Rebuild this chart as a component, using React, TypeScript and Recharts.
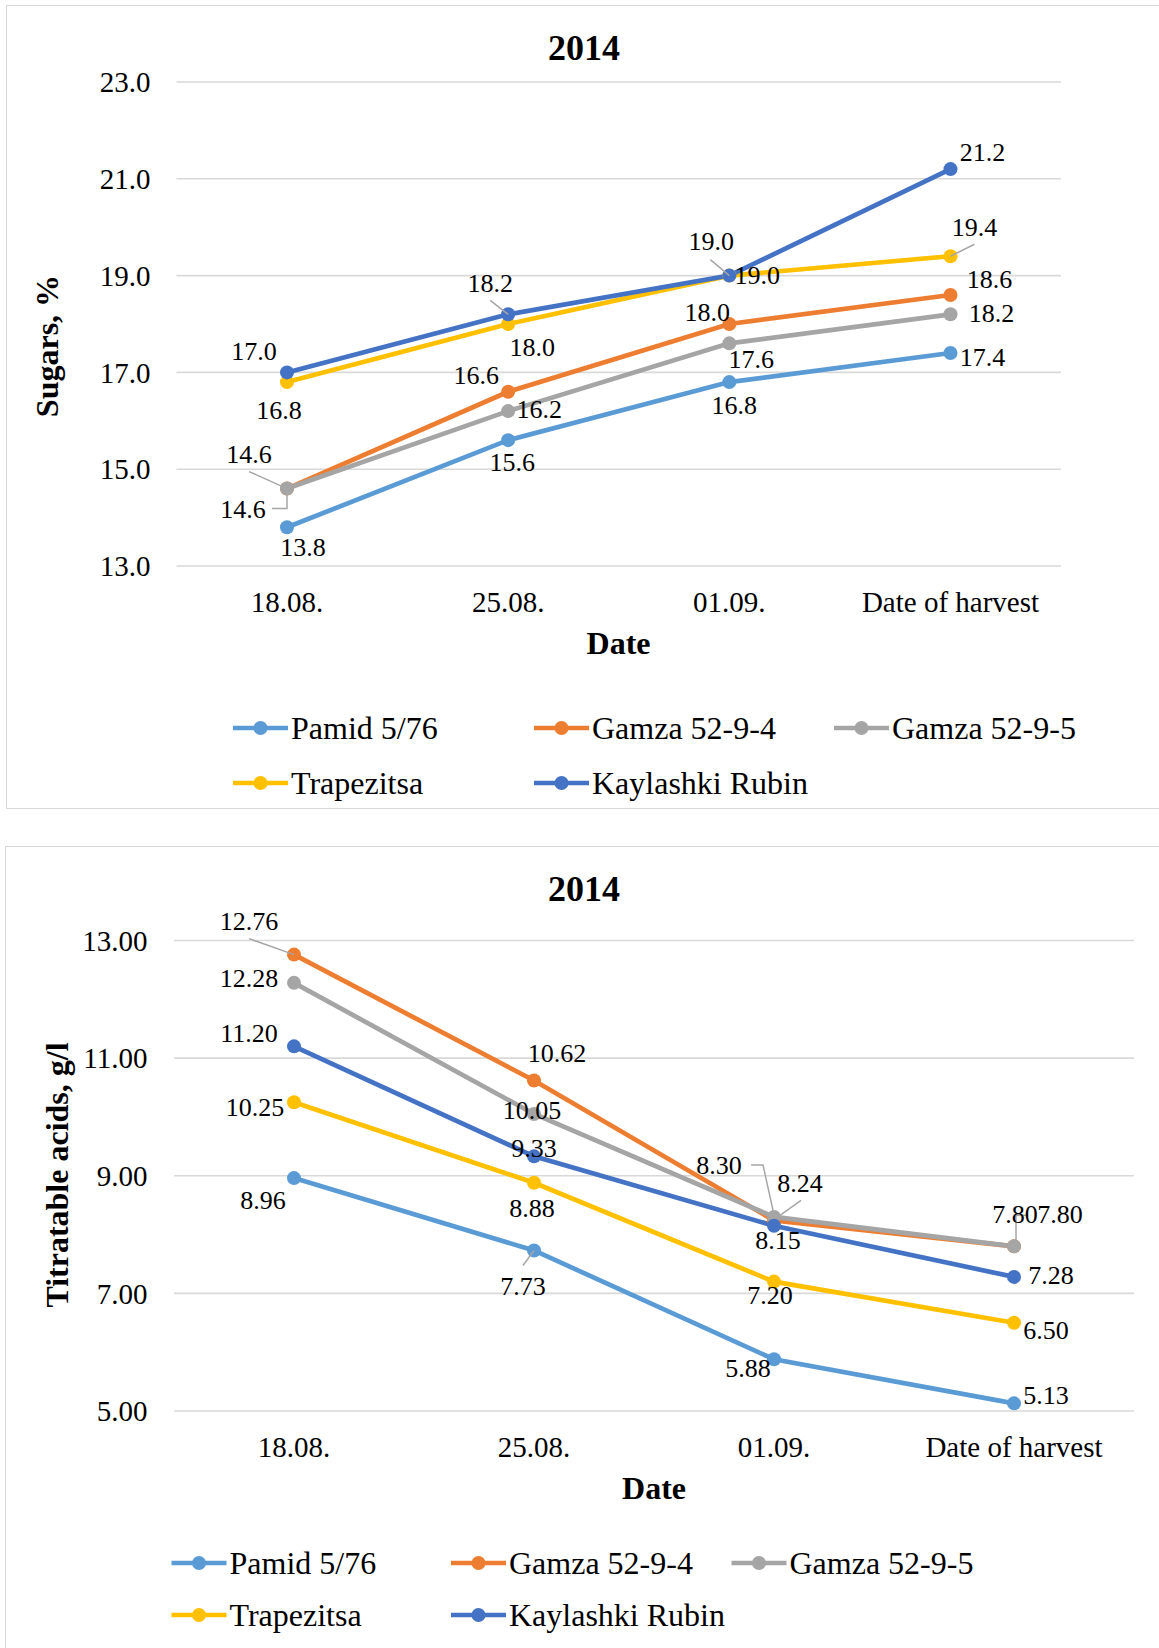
import React from 'react';
import { LineChart, Line, XAxis, YAxis, CartesianGrid, LabelList } from 'recharts';

// ---------- data ----------
const dates = ['18.08.', '25.08.', '01.09.', 'Date of harvest'];
const seriesNames = ['Pamid 5/76', 'Gamza 52-9-4', 'Gamza 52-9-5', 'Trapezitsa', 'Kaylashki Rubin'];
const seriesKeys = ['pamid', 'gamza4', 'gamza5', 'trapezitsa', 'kaylashki'];
const seriesColors = ['#5B9BD5', '#ED7D31', '#A5A5A5', '#FFC000', '#4472C4'];

const sugarsPamid = [13.8, 15.6, 16.8, 17.4];
const sugarsGamza4 = [14.6, 16.6, 18.0, 18.6];
const sugarsGamza5 = [14.6, 16.2, 17.6, 18.2];
const sugarsTrapezitsa = [16.8, 18.0, 19.0, 19.4];
const sugarsKaylashki = [17.0, 18.2, 19.0, 21.2];
const sugarsTicks = [13, 15, 17, 19, 21, 23];

const acidsPamid = [8.96, 7.73, 5.88, 5.13];
const acidsGamza4 = [12.76, 10.62, 8.24, 7.8];
const acidsGamza5 = [12.28, 10.05, 8.3, 7.8];
const acidsTrapezitsa = [10.25, 8.88, 7.2, 6.5];
const acidsKaylashki = [11.2, 9.33, 8.15, 7.28];
const acidsTicks = [5, 7, 9, 11, 13];

const chartTitle = '2014';
const xTitle = 'Date';
const sugarsYTitle = 'Sugars, %';
const acidsYTitle = 'Titratable acids, g/l';

const buildRows = (series: number[][]) =>
  dates.map((d, i) => {
    const row: any = { date: d };
    seriesKeys.forEach((k, s) => (row[k] = series[s][i]));
    return row;
  });

const sugarsRows = buildRows([sugarsPamid, sugarsGamza4, sugarsGamza5, sugarsTrapezitsa, sugarsKaylashki]);
const acidsRows = buildRows([acidsPamid, acidsGamza4, acidsGamza5, acidsTrapezitsa, acidsKaylashki]);

// ---------- label placement (offsets from each point, layout only) ----------
type LabelPos = { dx: number; dy: number; leader?: number[][] };

const sugarsLabelPos: LabelPos[][] = [
  [{ dx: 16, dy: 20 }, { dx: 4, dy: 22 }, { dx: 5, dy: 23 }, { dx: 32, dy: 4 }],
  [{ dx: -38, dy: -35, leader: [[-38, -17], [0, 0]] }, { dx: -32, dy: -17 }, { dx: -22, dy: -12 }, { dx: 39, dy: -16 }],
  [{ dx: -44, dy: 20, leader: [[-15, 20], [0, 20], [0, 0]] }, { dx: 31, dy: -2 }, { dx: 22, dy: 16 }, { dx: 41, dy: -1 }],
  [{ dx: -8, dy: 28 }, { dx: 24, dy: 23 }, { dx: 28, dy: -1 }, { dx: 24, dy: -29, leader: [[24, -12], [0, 0]] }],
  [{ dx: -33, dy: -22 }, { dx: -18, dy: -31, leader: [[-18, -14], [0, 0]] }, { dx: -18, dy: -35, leader: [[-19, -16], [0, 0]] }, { dx: 32, dy: -17 }],
];

const acidsLabelPos: LabelPos[][] = [
  [{ dx: -31, dy: 22 }, { dx: -11, dy: 35, leader: [[-11, 15], [0, 0]] }, { dx: -26, dy: 9 }, { dx: 32, dy: -8 }],
  [{ dx: -45, dy: -34, leader: [[-45, -16], [0, 0]] }, { dx: 23, dy: -28 }, { dx: 26, dy: -38, leader: [[27, -20], [6, -5]] }, { dx: 46, dy: -32 }],
  [{ dx: -45, dy: -5 }, { dx: -2, dy: -4 }, { dx: -55, dy: -52, leader: [[-23, -52], [-11, -52], [0, -2]] }, { dx: 1, dy: -32, leader: [[14, -31], [2, -31], [2, -4]] }],
  [{ dx: -39, dy: 5 }, { dx: -2, dy: 25 }, { dx: -4, dy: 13 }, { dx: 32, dy: 7 }],
  [{ dx: -45, dy: -13 }, { dx: 0, dy: -8 }, { dx: 4, dy: 14 }, { dx: 37, dy: -2 }],
];

// ---------- styling ----------
const FONT = '"Liberation Serif", "Times New Roman", Times, serif';
const GRID = '#d9d9d9';
const TEXT = '#000000';
const LINE_W = 4.7;
const DOT_R = 7;

const makeLabel = (positions: LabelPos[], decimals: number) => (props: any) => {
  const x = props.x ?? props.viewBox?.x;
  const y = props.y ?? props.viewBox?.y;
  const index = props.index;
  const value = props.value;
  if (x == null || y == null || value == null) return null;
  const p = positions[index] || { dx: 0, dy: -20 };
  return (
    <g>
      {p.leader ? (
        <polyline
          points={p.leader.map(([lx, ly]) => `${x + lx},${y + ly}`).join(' ')}
          fill="none"
          stroke="#a6a6a6"
          strokeWidth={1.5}
        />
      ) : null}
      <text
        x={x + p.dx}
        y={y + p.dy}
        dy="0.35em"
        textAnchor="middle"
        fontFamily={FONT}
        fontSize={26}
        fill={TEXT}
      >
        {Number(value).toFixed(decimals)}
      </text>
    </g>
  );
};

type ChartProps = {
  top: number;
  height: number;
  rows: any[];
  ticks: number[];
  decimals: number;
  labelPos: LabelPos[][];
  marginTop: number;
  marginRight: number;
  marginBottom: number;
  yAxisWidth: number;
  xPad: number;
  yTickMargin: number;
};

function SeriesChart(c: ChartProps) {
  return (
    <div style={{ position: 'absolute', left: 0, top: c.top }}>
      <LineChart
        width={1159}
        height={c.height}
        data={c.rows}
        margin={{ top: c.marginTop, right: c.marginRight, bottom: c.marginBottom, left: 0 }}
      >
        <CartesianGrid vertical={false} stroke={GRID} strokeWidth={1.6} />
        <XAxis
          dataKey="date"
          axisLine={false}
          tickLine={false}
          tickSize={0}
          tickMargin={25}
          height={60}
          padding={{ left: c.xPad, right: c.xPad }}
          interval={0}
          tick={{ fill: TEXT, fontSize: 29, fontFamily: FONT }}
        />
        <YAxis
          type="number"
          domain={[c.ticks[0], c.ticks[c.ticks.length - 1]]}
          ticks={c.ticks}
          width={c.yAxisWidth}
          axisLine={false}
          tickLine={false}
          tickSize={0}
          tickMargin={c.yTickMargin}
          tickFormatter={(v: number) => v.toFixed(c.decimals)}
          tick={{ fill: TEXT, fontSize: 29, fontFamily: FONT }}
          interval={0}
        />
        {seriesKeys.map((k, i) => (
          <Line
            key={k}
            type="linear"
            dataKey={k}
            name={seriesNames[i]}
            stroke={seriesColors[i]}
            strokeWidth={LINE_W}
            dot={{ r: DOT_R, fill: seriesColors[i], stroke: seriesColors[i], strokeWidth: 0 }}
            isAnimationActive={false}
          >
            <LabelList dataKey={k} content={makeLabel(c.labelPos[i], c.decimals)} />
          </Line>
        ))}
      </LineChart>
    </div>
  );
}

function Legend({ xs, ys }: { xs: number[]; ys: number[] }) {
  return (
    <g>
      {seriesNames.map((name, i) => {
        const x = xs[i % 3];
        const y = ys[Math.floor(i / 3)];
        return (
          <g key={name}>
            <line x1={x} y1={y} x2={x + 55} y2={y} stroke={seriesColors[i]} strokeWidth={LINE_W} />
            <circle cx={x + 27.5} cy={y} r={DOT_R} fill={seriesColors[i]} />
            <text x={x + 58} y={y} dy="0.35em" fontFamily={FONT} fontSize={32} fill={TEXT}>
              {name}
            </text>
          </g>
        );
      })}
    </g>
  );
}

export default function App() {
  return (
    <div style={{ position: 'absolute', left: 0, top: 0, width: 1159, height: 1648, overflow: 'hidden', background: '#fff' }}>
      {/* frames */}
      <div style={{ position: 'absolute', left: 6, top: 5, width: 1160, height: 804, border: `1.5px solid ${GRID}`, boxSizing: 'border-box' }} />
      <div style={{ position: 'absolute', left: 5, top: 846, width: 1160, height: 900, border: `1.5px solid ${GRID}`, boxSizing: 'border-box' }} />

      <SeriesChart
        top={0}
        height={810}
        rows={sugarsRows}
        ticks={sugarsTicks}
        decimals={1}
        labelPos={sugarsLabelPos}
        marginTop={82}
        marginRight={98}
        marginBottom={184}
        yAxisWidth={176.5}
        xPad={110.5}
        yTickMargin={26}
      />
      <SeriesChart
        top={846}
        height={802}
        rows={acidsRows}
        ticks={acidsTicks}
        decimals={2}
        labelPos={acidsLabelPos}
        marginTop={94.5}
        marginRight={25}
        marginBottom={177}
        yAxisWidth={174}
        xPad={120}
        yTickMargin={26.5}
      />

      <svg width={1159} height={1648} style={{ position: 'absolute', left: 0, top: 0, pointerEvents: 'none' }}>
        {/* chart 1 texts */}
        <text x={584} y={47} dy="0.35em" textAnchor="middle" fontFamily={FONT} fontWeight="bold" fontSize={36} fill={TEXT}>
          {chartTitle}
        </text>
        <text x={618.5} y={643} dy="0.35em" textAnchor="middle" fontFamily={FONT} fontWeight="bold" fontSize={32} fill={TEXT}>
          {xTitle}
        </text>
        <text x={47} y={346} dy="0.35em" textAnchor="middle" fontFamily={FONT} fontWeight="bold" fontSize={32} fill={TEXT} transform="rotate(-90, 47, 346)">
          {sugarsYTitle}
        </text>
        <Legend xs={[233, 534, 834]} ys={[728, 783]} />

        {/* chart 2 texts */}
        <text x={584} y={888} dy="0.35em" textAnchor="middle" fontFamily={FONT} fontWeight="bold" fontSize={36} fill={TEXT}>
          {chartTitle}
        </text>
        <text x={654} y={1488} dy="0.35em" textAnchor="middle" fontFamily={FONT} fontWeight="bold" fontSize={32} fill={TEXT}>
          {xTitle}
        </text>
        <text x={57} y={1175} dy="0.35em" textAnchor="middle" fontFamily={FONT} fontWeight="bold" fontSize={32} fill={TEXT} transform="rotate(-90, 57, 1175)">
          {acidsYTitle}
        </text>
        <Legend xs={[171.5, 451, 731.5]} ys={[1563, 1615]} />
      </svg>
    </div>
  );
}
